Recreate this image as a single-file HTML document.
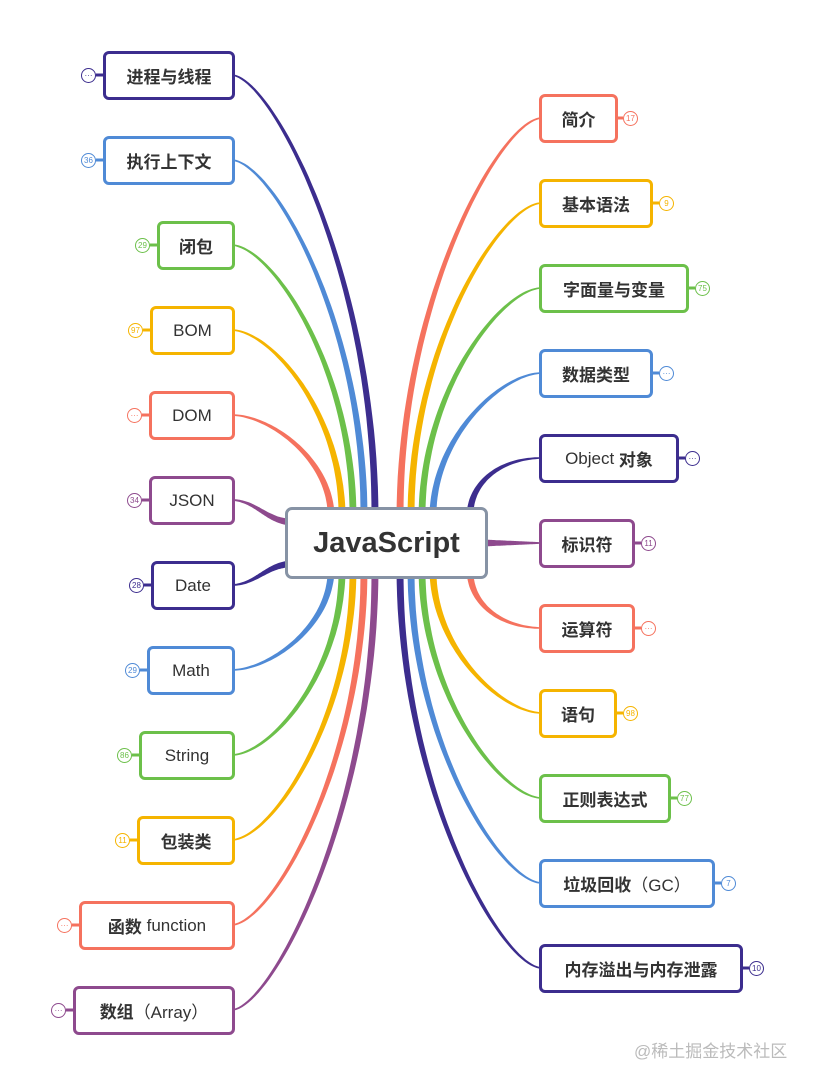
<!DOCTYPE html>
<html><head><meta charset="utf-8">
<style>
html,body{margin:0;padding:0;background:#fff;}
#wrap{position:relative;width:814px;height:1085px;overflow:hidden;font-family:"Liberation Sans","Noto Sans CJK SC",sans-serif;}
svg{position:absolute;left:0;top:0;}
.n{position:absolute;box-sizing:border-box;height:49px;border:3px solid;border-radius:6px;background:#fff;display:flex;align-items:center;justify-content:center;font-size:17px;color:#333;font-weight:bold;white-space:nowrap;}
.n .l{font-weight:normal;}
.b{position:absolute;box-sizing:border-box;width:15px;height:15px;border:1px solid;border-radius:50%;background:#fff;font-size:8px;display:flex;align-items:center;justify-content:center;font-family:"Liberation Sans",sans-serif;}
#c{position:absolute;left:285px;top:507px;width:203px;height:72px;box-sizing:border-box;border:3px solid #8793a5;border-radius:7px;background:#fff;display:flex;align-items:center;justify-content:center;font-size:29px;font-weight:bold;color:#333;}
#wm{position:absolute;left:634px;top:1037px;font-size:17px;color:#bbb;font-family:"Liberation Sans","Noto Sans CJK SC",sans-serif;}
</style></head><body><div id="wrap">
<svg id="s" width="814" height="1085"></svg>

<div class="n" style="left:103px;top:51px;width:132px;border-color:#3c2d8e">进程与线程</div>
<div class="n" style="left:103px;top:136px;width:132px;border-color:#4f8ad6">执行上下文</div>
<div class="n" style="left:157px;top:221px;width:78px;border-color:#6cc04a">闭包</div>
<div class="n" style="left:150px;top:306px;width:85px;border-color:#f5b400"><span class="l">BOM</span></div>
<div class="n" style="left:149px;top:391px;width:86px;border-color:#f5725e"><span class="l">DOM</span></div>
<div class="n" style="left:149px;top:476px;width:86px;border-color:#8e4a8e"><span class="l">JSON</span></div>
<div class="n" style="left:151px;top:561px;width:84px;border-color:#3c2d8e"><span class="l">Date</span></div>
<div class="n" style="left:147px;top:646px;width:88px;border-color:#4f8ad6"><span class="l">Math</span></div>
<div class="n" style="left:139px;top:731px;width:96px;border-color:#6cc04a"><span class="l">String</span></div>
<div class="n" style="left:137px;top:816px;width:98px;border-color:#f5b400">包装类</div>
<div class="n" style="left:79px;top:901px;width:156px;border-color:#f5725e">函数&nbsp;<span class="l">function</span></div>
<div class="n" style="left:73px;top:986px;width:162px;border-color:#8e4a8e">数组<span class="l">（Array）</span></div>

<div class="n" style="left:539px;top:94px;width:79px;border-color:#f5725e">简介</div>
<div class="n" style="left:539px;top:179px;width:114px;border-color:#f5b400">基本语法</div>
<div class="n" style="left:539px;top:264px;width:150px;border-color:#6cc04a">字面量与变量</div>
<div class="n" style="left:539px;top:349px;width:114px;border-color:#4f8ad6">数据类型</div>
<div class="n" style="left:539px;top:434px;width:140px;border-color:#3c2d8e"><span class="l">Object</span>&nbsp;对象</div>
<div class="n" style="left:539px;top:519px;width:96px;border-color:#8e4a8e">标识符</div>
<div class="n" style="left:539px;top:604px;width:96px;border-color:#f5725e">运算符</div>
<div class="n" style="left:539px;top:689px;width:78px;border-color:#f5b400">语句</div>
<div class="n" style="left:539px;top:774px;width:132px;border-color:#6cc04a">正则表达式</div>
<div class="n" style="left:539px;top:859px;width:176px;border-color:#4f8ad6">垃圾回收<span class="l">（GC）</span></div>
<div class="n" style="left:539px;top:944px;width:204px;border-color:#3c2d8e">内存溢出与内存泄露</div>

<div id="c">JavaScript</div>

<div class="b" style="left:81px;top:68px;border-color:#3c2d8e;color:#3c2d8e">···</div>
<div class="b" style="left:81px;top:153px;border-color:#4f8ad6;color:#4f8ad6">36</div>
<div class="b" style="left:135px;top:238px;border-color:#6cc04a;color:#6cc04a">29</div>
<div class="b" style="left:128px;top:323px;border-color:#f5b400;color:#f5b400">97</div>
<div class="b" style="left:127px;top:408px;border-color:#f5725e;color:#f5725e">···</div>
<div class="b" style="left:127px;top:493px;border-color:#8e4a8e;color:#8e4a8e">34</div>
<div class="b" style="left:129px;top:578px;border-color:#3c2d8e;color:#3c2d8e">28</div>
<div class="b" style="left:125px;top:663px;border-color:#4f8ad6;color:#4f8ad6">29</div>
<div class="b" style="left:117px;top:748px;border-color:#6cc04a;color:#6cc04a">86</div>
<div class="b" style="left:115px;top:833px;border-color:#f5b400;color:#f5b400">11</div>
<div class="b" style="left:57px;top:918px;border-color:#f5725e;color:#f5725e">···</div>
<div class="b" style="left:51px;top:1003px;border-color:#8e4a8e;color:#8e4a8e">···</div>

<div class="b" style="left:623px;top:111px;border-color:#f5725e;color:#f5725e">17</div>
<div class="b" style="left:659px;top:196px;border-color:#f5b400;color:#f5b400">9</div>
<div class="b" style="left:695px;top:281px;border-color:#6cc04a;color:#6cc04a">75</div>
<div class="b" style="left:659px;top:366px;border-color:#4f8ad6;color:#4f8ad6">···</div>
<div class="b" style="left:685px;top:451px;border-color:#3c2d8e;color:#3c2d8e">···</div>
<div class="b" style="left:641px;top:536px;border-color:#8e4a8e;color:#8e4a8e">11</div>
<div class="b" style="left:641px;top:621px;border-color:#f5725e;color:#f5725e">···</div>
<div class="b" style="left:623px;top:706px;border-color:#f5b400;color:#f5b400">98</div>
<div class="b" style="left:677px;top:791px;border-color:#6cc04a;color:#6cc04a">77</div>
<div class="b" style="left:721px;top:876px;border-color:#4f8ad6;color:#4f8ad6">7</div>
<div class="b" style="left:749px;top:961px;border-color:#3c2d8e;color:#3c2d8e">10</div>

<div id="wm">@稀土掘金技术社区</div>
</div>
<script>
var N='#3c2d8e',B='#4f8ad6',G='#6cc04a',Y='#f5b400',C='#f5725e',P='#8e4a8e';
var L=[
[231,75,375,516,N,'v'],[231,160,364,516,B,'v'],[231,245,353,516,G,'v'],[231,330,342,516,Y,'v'],[231,415,331,516,C,'v'],
[231,500,292,522,P,'h'],[231,585,292,564,N,'h'],
[231,670,331,570,B,'v'],[231,755,342,570,G,'v'],[231,840,353,570,Y,'v'],[231,925,364,570,C,'v'],[231,1010,375,570,P,'v'],
[542,118,400,516,C,'v'],[542,203,411,516,Y,'v'],[542,288,422,516,G,'v'],[542,373,433,516,B,'v'],[542,458,470,516,N,'h2'],
[542,543,482,543,P,'s'],[542,628,470,570,C,'h2'],
[542,713,433,570,Y,'v'],[542,798,422,570,G,'v'],[542,883,411,570,B,'v'],[542,968,400,570,N,'v']];
var s=document.getElementById('s'),h='';
function bz(p0,p1,p2,p3,t){var u=1-t;return u*u*u*p0+3*u*u*t*p1+3*u*t*t*p2+t*t*t*p3;}
L.forEach(function(a){
 var x0=a[0],y0=a[1],x3=a[2],y3=a[3],dir=x3>x0?1:-1,x1,y1,x2,y2;
 if(a[5]=='v'){x1=x0+dir*40;y1=y0;x2=x3;y2=y3+(y0-y3)*0.55;}
 else if(a[5]=='h'){x1=x0+25;y1=y0;x2=x3-25;y2=y3;}
 else if(a[5]=='h2'){x1=x0-40;y1=y0;x2=x3;y2=y3+(y0-y3)*0.6;}
 else {x1=x0-20;y1=y0;x2=x3+20;y2=y3;}
 var A=[],Bk=[],n=50;
 for(var i=0;i<=n;i++){var t=i/n,x=bz(x0,x1,x2,x3,t),y=bz(y0,y1,y2,y3,t);
  var e=0.001,dx=bz(x0,x1,x2,x3,Math.min(t+e,1))-bz(x0,x1,x2,x3,Math.max(t-e,0)),dy=bz(y0,y1,y2,y3,Math.min(t+e,1))-bz(y0,y1,y2,y3,Math.max(t-e,0));
  var l=Math.hypot(dx,dy)||1,w=(1.5+5.5*t)/2,nx=-dy/l*w,ny=dx/l*w;
  A.push((x+nx).toFixed(1)+','+(y+ny).toFixed(1));Bk.unshift((x-nx).toFixed(1)+','+(y-ny).toFixed(1));}
 h+='<polygon points="'+A.join(' ')+' '+Bk.join(' ')+'" fill="'+a[4]+'"/>';
});
var bl=[[234,75,96,N],[234,160,96,B],[234,245,150,G],[234,330,143,Y],[234,415,142,C],[234,500,142,P],[234,585,144,N],[234,670,140,B],[234,755,132,G],[234,840,130,Y],[234,925,72,C],[234,1010,66,P],
[617,118,623,C],[652,203,659,Y],[688,288,695,G],[652,373,659,B],[678,458,685,N],[634,543,641,P],[634,628,641,C],[616,713,623,Y],[670,798,677,G],[714,883,721,B],[742,968,749,N]];
bl.forEach(function(b){var a=Math.min(b[0],b[2]),c=Math.max(b[0],b[2]);h+='<line x1="'+a+'" y1="'+b[1]+'" x2="'+c+'" y2="'+b[1]+'" stroke="'+b[3]+'" stroke-width="3"/>';});
s.innerHTML=h;
</script>
</body></html>
